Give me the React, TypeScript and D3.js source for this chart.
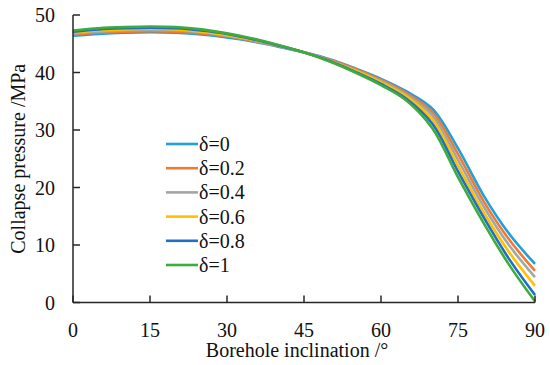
import React from 'react'
import * as d3 from 'd3'

const WIDTH = 550
const HEIGHT = 365

// borehole inclination, degrees
const inclination = [0, 5, 10, 15, 20, 25, 30, 35, 40, 45, 50, 55, 60, 65, 70, 75, 80, 85, 90]

const deltas = ['δ=0', 'δ=0.2', 'δ=0.4', 'δ=0.6', 'δ=0.8', 'δ=1']
const colors = ['#1e9fe0', '#f07a30', '#a5a5a5', '#ffc000', '#1f6fc5', '#3dab3d']

// collapse pressure, MPa
const p00 = [46.4, 46.7, 46.9, 47.0, 46.9, 46.6, 46.1, 45.4, 44.5, 43.5, 42.3, 40.7, 38.9, 36.7, 33.7, 26.8, 18.6, 11.9, 6.7]
const p02 = [46.6, 46.9, 47.1, 47.2, 47.1, 46.8, 46.3, 45.5, 44.6, 43.5, 42.2, 40.6, 38.7, 36.4, 33.1, 25.8, 17.6, 10.9, 5.5]
const p04 = [46.8, 47.1, 47.3, 47.4, 47.3, 47.0, 46.4, 45.6, 44.6, 43.5, 42.1, 40.4, 38.5, 36.1, 32.5, 24.8, 16.7, 9.9, 4.4]
const p06 = [47.0, 47.3, 47.5, 47.6, 47.5, 47.1, 46.5, 45.7, 44.7, 43.5, 42.0, 40.3, 38.3, 35.8, 31.8, 23.8, 15.7, 8.7, 2.9]
const p08 = [47.1, 47.5, 47.7, 47.8, 47.7, 47.3, 46.7, 45.8, 44.7, 43.5, 42.0, 40.1, 38.0, 35.4, 31.1, 22.8, 14.8, 7.5, 1.3]
const p10 = [47.3, 47.7, 47.9, 48.0, 47.9, 47.5, 46.8, 45.9, 44.8, 43.5, 41.9, 40.0, 37.8, 35.1, 30.3, 21.8, 13.8, 6.5, 0.2]
const series = [p00, p02, p04, p06, p08, p10]

const xTicks = [0, 15, 30, 45, 60, 75, 90]
const yTicks = [0, 10, 20, 30, 40, 50]

const FONT = { fontFamily: 'Liberation Serif, DejaVu Serif, serif' }
const AXIS = '#262626'

export default function App() {
    const x = d3.scaleLinear().domain([0, 90]).range([73, 535])
    const y = d3.scaleLinear().domain([0, 50]).range([302.5, 15])

    const line = d3.line<number>()
        .x((d, i) => x(inclination[i]))
        .y(d => y(d))
        .curve(d3.curveCatmullRom.alpha(0.5))

    return (
        <svg width={WIDTH} height={HEIGHT} style={{ position: 'absolute', left: 0, top: 0, background: '#fff' }}>
            {/* curves */}
            {series.map((s, i) => (
                <path key={i} d={line(s) || ''} fill="none" stroke={colors[i]} strokeWidth={2.6} />
            ))}

            {/* axes */}
            <line x1={x(0)} x2={x(0)} y1={y(0)} y2={y(50)} stroke={AXIS} strokeWidth={1.5} />
            <line x1={x(0)} x2={x(90)} y1={y(0)} y2={y(0)} stroke={AXIS} strokeWidth={1.5} />
            {yTicks.map(t => (
                <g key={t}>
                    <line x1={x(0)} x2={x(0) + 7} y1={y(t)} y2={y(t)} stroke={AXIS} strokeWidth={1.5} />
                    <text x={55} y={y(t)} dy={7} textAnchor="end" fontSize={20} fill="#111" style={FONT}>{t}</text>
                </g>
            ))}
            {xTicks.map(t => (
                <g key={t}>
                    <line x1={x(t)} x2={x(t)} y1={y(0)} y2={y(0) - 7} stroke={AXIS} strokeWidth={1.5} />
                    <text x={x(t)} y={337} textAnchor="middle" fontSize={20} fill="#111" style={FONT}>{t}</text>
                </g>
            ))}

            {/* titles */}
            <text x={297} y={357} textAnchor="middle" fontSize={20} fill="#111" style={FONT}>Borehole inclination /°</text>
            <text transform={`translate(25, ${(y(0) + y(50)) / 2}) rotate(-90)`} textAnchor="middle"
                fontSize={20} fill="#111" style={FONT}>Collapse pressure /MPa</text>

            {/* legend */}
            {deltas.map((d, i) => (
                <g key={d} transform={`translate(166, ${144 + i * 24.2})`}>
                    <line x1={0} x2={32} y1={0} y2={0} stroke={colors[i]} strokeWidth={2.6} />
                    <text x={33} y={7} fontSize={20} fill="#111" style={FONT}>{d}</text>
                </g>
            ))}
        </svg>
    )
}
